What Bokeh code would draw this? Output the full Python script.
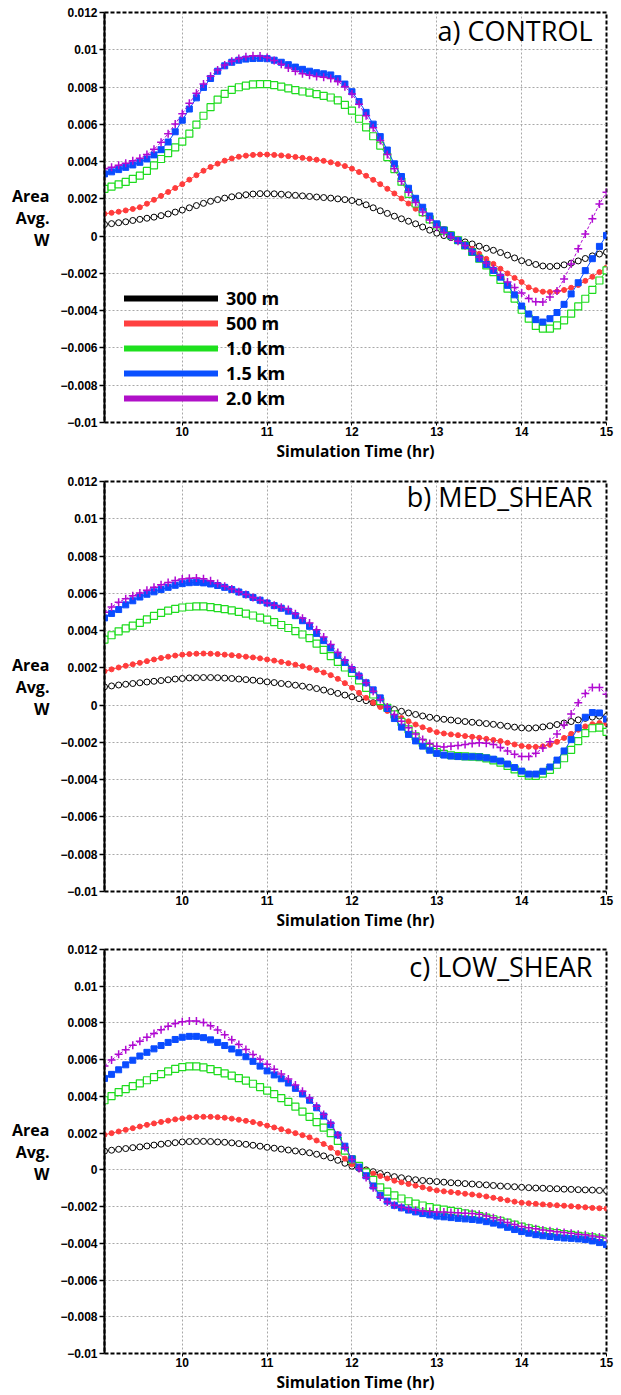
from bokeh.plotting import figure
from bokeh.layouts import column
from bokeh.models import (FixedTicker, CustomJSTickFormatter, Label, Legend,
                          LegendItem, Range1d)
from bokeh.embed import file_html
from bokeh.resources import INLINE

# ---------------- data ----------------
# sample times (minutes after midnight), every 5 min from 9:05 to 15:00
minutes = [545, 550, 555, 560, 565, 570, 575, 580, 585, 590, 595, 600,
           605, 610, 615, 620, 625, 630, 635, 640, 645, 650, 655, 660,
           665, 670, 675, 680, 685, 690, 695, 700, 705, 710, 715, 720,
           725, 730, 735, 740, 745, 750, 755, 760, 765, 770, 775, 780,
           785, 790, 795, 800, 805, 810, 815, 820, 825, 830, 835, 840,
           845, 850, 855, 860, 865, 870, 875, 880, 885, 890, 895, 900]

series_labels = ["300 m", "500 m", "1.0 km", "1.5 km", "2.0 km"]
panel_titles = ["a) CONTROL", "b) MED_SHEAR", "c) LOW_SHEAR"]
x_ticks = [10, 11, 12, 13, 14, 15]
y_ticks = [-0.01, -0.008, -0.006, -0.004, -0.002, 0, 0.002, 0.004, 0.006, 0.008, 0.01, 0.012]

# values in units of 1e-3
a_300 = [0.63, 0.67, 0.72, 0.77, 0.84, 0.90, 0.96, 1.02, 1.10, 1.19, 1.29, 1.40,
         1.52, 1.64, 1.76, 1.87, 1.96, 2.04, 2.11, 2.17, 2.22, 2.26, 2.28, 2.28,
         2.27, 2.25, 2.22, 2.19, 2.16, 2.13, 2.10, 2.07, 2.04, 2.00, 1.96, 1.91,
         1.82, 1.68, 1.52, 1.36, 1.22, 1.07, 0.93, 0.80, 0.66, 0.49, 0.32, 0.16,
         0.03, -0.08, -0.20, -0.31, -0.42, -0.54, -0.65, -0.76, -0.88, -1.02, -1.17, -1.32,
         -1.42, -1.52, -1.60, -1.63, -1.60, -1.54, -1.45, -1.33, -1.20, -1.06, -0.96, -0.86]
a_500 = [1.20, 1.25, 1.31, 1.38, 1.46, 1.55, 1.74, 1.95, 2.16, 2.37, 2.58, 2.79,
         3.03, 3.27, 3.51, 3.71, 3.89, 4.05, 4.17, 4.26, 4.32, 4.36, 4.38, 4.38,
         4.36, 4.33, 4.29, 4.25, 4.20, 4.15, 4.10, 4.04, 3.96, 3.87, 3.76, 3.62,
         3.44, 3.24, 3.02, 2.79, 2.54, 2.29, 2.02, 1.75, 1.47, 1.20, 0.93, 0.66,
         0.39, 0.12, -0.14, -0.41, -0.68, -0.95, -1.22, -1.49, -1.75, -2.00, -2.24, -2.46,
         -2.75, -2.90, -2.98, -3.00, -2.97, -2.89, -2.77, -2.62, -2.40, -2.18, -1.93, -1.68]
a_1000 = [2.54, 2.66, 2.78, 2.91, 3.07, 3.25, 3.50, 3.80, 4.14, 4.45, 4.76, 5.07,
          5.50, 5.98, 6.46, 6.92, 7.32, 7.63, 7.85, 7.99, 8.08, 8.14, 8.16, 8.16,
          8.10, 8.02, 7.93, 7.84, 7.76, 7.70, 7.62, 7.53, 7.44, 7.28, 7.04, 6.73,
          6.30, 5.84, 5.36, 4.86, 4.24, 3.60, 2.92, 2.27, 1.75, 1.29, 0.90, 0.57,
          0.30, 0.04, -0.22, -0.50, -0.85, -1.21, -1.57, -1.93, -2.35, -2.82, -3.35, -3.95,
          -4.43, -4.82, -4.96, -4.96, -4.79, -4.52, -4.16, -3.77, -3.36, -2.88, -2.38, -1.84]
a_1500 = [3.34, 3.45, 3.57, 3.69, 3.82, 3.96, 4.14, 4.36, 4.64, 5.05, 5.60, 6.22,
          6.82, 7.42, 7.98, 8.46, 8.85, 9.14, 9.33, 9.44, 9.50, 9.53, 9.54, 9.52,
          9.44, 9.33, 9.20, 9.07, 8.95, 8.85, 8.77, 8.71, 8.65, 8.45, 8.16, 7.75,
          7.22, 6.64, 6.01, 5.34, 4.62, 3.88, 3.20, 2.57, 2.03, 1.55, 1.08, 0.66,
          0.33, 0.04, -0.23, -0.50, -0.85, -1.21, -1.52, -1.84, -2.20, -2.64, -3.15, -3.75,
          -4.18, -4.48, -4.61, -4.43, -4.10, -3.66, -3.10, -2.50, -1.85, -1.21, -0.55, 0.04]
a_2000 = [3.61, 3.70, 3.80, 3.91, 4.04, 4.18, 4.38, 4.66, 5.04, 5.50, 6.02, 6.57,
          7.13, 7.67, 8.16, 8.58, 8.92, 9.18, 9.38, 9.53, 9.63, 9.68, 9.66, 9.58,
          9.42, 9.22, 9.02, 8.85, 8.72, 8.63, 8.57, 8.52, 8.46, 8.30, 8.02, 7.63,
          7.08, 6.46, 5.81, 5.13, 4.38, 3.61, 2.95, 2.36, 1.80, 1.29, 0.86, 0.48,
          0.20, -0.05, -0.27, -0.50, -0.81, -1.13, -1.44, -1.75, -2.10, -2.46, -2.76, -3.05,
          -3.35, -3.52, -3.54, -3.27, -2.95, -2.30, -1.50, -0.68, 0.12, 0.93, 1.73, 2.35]

b_300 = [0.98, 1.03, 1.08, 1.12, 1.16, 1.20, 1.24, 1.28, 1.32, 1.36, 1.40, 1.43,
         1.46, 1.47, 1.48, 1.48, 1.47, 1.45, 1.43, 1.40, 1.37, 1.34, 1.30, 1.25,
         1.21, 1.16, 1.12, 1.07, 1.02, 0.96, 0.89, 0.81, 0.72, 0.63, 0.54, 0.45,
         0.35, 0.24, 0.13, 0.01, -0.11, -0.23, -0.33, -0.42, -0.50, -0.58, -0.65, -0.71,
         -0.76, -0.80, -0.84, -0.88, -0.92, -0.95, -0.99, -1.03, -1.08, -1.13, -1.18, -1.22,
         -1.24, -1.22, -1.17, -1.11, -1.04, -0.96, -0.88, -0.79, -0.71, -0.64, -0.59, -0.60]
b_500 = [1.82, 1.92, 2.02, 2.11, 2.19, 2.27, 2.36, 2.45, 2.53, 2.60, 2.66, 2.71,
         2.74, 2.76, 2.77, 2.76, 2.74, 2.71, 2.68, 2.64, 2.60, 2.56, 2.51, 2.45,
         2.39, 2.32, 2.25, 2.17, 2.09, 2.00, 1.88, 1.75, 1.61, 1.41, 1.18, 0.93,
         0.66, 0.39, 0.13, -0.10, -0.31, -0.50, -0.69, -0.87, -1.04, -1.19, -1.33, -1.45,
         -1.52, -1.57, -1.61, -1.66, -1.70, -1.75, -1.81, -1.87, -1.93, -2.02, -2.11, -2.19,
         -2.23, -2.24, -2.21, -2.13, -1.97, -1.76, -1.54, -1.32, -1.14, -1.02, -0.96, -0.98]
b_1000 = [3.52, 3.75, 3.96, 4.12, 4.27, 4.41, 4.60, 4.79, 4.95, 5.07, 5.17, 5.24,
          5.28, 5.30, 5.30, 5.26, 5.21, 5.15, 5.08, 5.00, 4.91, 4.81, 4.70, 4.59,
          4.45, 4.30, 4.14, 3.97, 3.79, 3.60, 3.30, 2.96, 2.63, 2.32, 2.02, 1.73,
          1.33, 0.93, 0.57, 0.21, -0.14, -0.50, -0.90, -1.30, -1.68, -2.02, -2.30, -2.52,
          -2.62, -2.69, -2.73, -2.75, -2.77, -2.79, -2.86, -2.96, -3.09, -3.26, -3.45, -3.63,
          -3.78, -3.80, -3.67, -3.47, -3.20, -2.85, -2.40, -1.93, -1.50, -1.24, -1.21, -1.43]
b_1500 = [4.68, 4.92, 5.13, 5.38, 5.60, 5.80, 5.95, 6.08, 6.20, 6.32, 6.43, 6.52,
          6.57, 6.59, 6.56, 6.50, 6.42, 6.32, 6.20, 6.07, 5.93, 5.78, 5.63, 5.48,
          5.34, 5.20, 5.04, 4.80, 4.53, 4.23, 3.85, 3.46, 3.07, 2.68, 2.29, 1.91,
          1.56, 1.20, 0.82, 0.39, -0.18, -0.72, -1.18, -1.57, -1.92, -2.20, -2.42, -2.59,
          -2.68, -2.73, -2.76, -2.77, -2.77, -2.78, -2.83, -2.90, -3.00, -3.16, -3.35, -3.54,
          -3.70, -3.70, -3.55, -3.32, -2.95, -2.46, -1.85, -1.21, -0.65, -0.40, -0.42, -0.75]
b_2000 = [4.98, 5.27, 5.52, 5.71, 5.87, 6.02, 6.17, 6.32, 6.46, 6.58, 6.69, 6.77,
          6.81, 6.82, 6.78, 6.67, 6.53, 6.38, 6.23, 6.08, 5.93, 5.78, 5.63, 5.48,
          5.36, 5.25, 5.13, 4.91, 4.66, 4.41, 4.04, 3.65, 3.25, 2.83, 2.41, 2.00,
          1.60, 1.20, 0.75, 0.30, -0.10, -0.50, -0.86, -1.21, -1.55, -1.84, -2.06, -2.21,
          -2.24, -2.21, -2.16, -2.11, -2.06, -2.02, -2.04, -2.11, -2.27, -2.46, -2.64, -2.76,
          -2.75, -2.58, -2.30, -1.96, -1.55, -1.06, -0.48, 0.13, 0.62, 0.94, 0.95, 0.58]

c_300 = [1.02, 1.07, 1.12, 1.16, 1.21, 1.25, 1.30, 1.35, 1.40, 1.44, 1.48, 1.52,
         1.54, 1.55, 1.55, 1.54, 1.52, 1.50, 1.47, 1.43, 1.39, 1.34, 1.29, 1.23,
         1.18, 1.13, 1.08, 1.03, 0.98, 0.93, 0.85, 0.76, 0.66, 0.52, 0.36, 0.20,
         0.08, 0.00, -0.10, -0.20, -0.29, -0.37, -0.43, -0.49, -0.54, -0.58, -0.61, -0.64,
         -0.67, -0.70, -0.72, -0.75, -0.77, -0.80, -0.82, -0.85, -0.88, -0.90, -0.92, -0.95,
         -0.97, -0.99, -1.00, -1.02, -1.03, -1.05, -1.06, -1.08, -1.09, -1.10, -1.12, -1.13]
c_500 = [1.91, 2.00, 2.09, 2.18, 2.27, 2.36, 2.45, 2.53, 2.61, 2.68, 2.75, 2.80,
         2.85, 2.88, 2.89, 2.89, 2.87, 2.84, 2.79, 2.73, 2.67, 2.60, 2.51, 2.41,
         2.31, 2.21, 2.10, 2.00, 1.89, 1.77, 1.60, 1.41, 1.20, 0.92, 0.61, 0.30,
         0.12, -0.03, -0.20, -0.34, -0.47, -0.59, -0.68, -0.77, -0.86, -0.95, -1.04, -1.12,
         -1.17, -1.21, -1.25, -1.30, -1.34, -1.39, -1.45, -1.52, -1.59, -1.66, -1.73, -1.79,
         -1.82, -1.85, -1.88, -1.91, -1.93, -1.95, -1.98, -2.01, -2.04, -2.07, -2.09, -2.11]
c_1000 = [3.79, 4.02, 4.23, 4.40, 4.56, 4.71, 4.88, 5.05, 5.21, 5.36, 5.50, 5.60,
          5.64, 5.64, 5.58, 5.49, 5.38, 5.25, 5.13, 5.00, 4.86, 4.69, 4.51, 4.32,
          4.12, 3.91, 3.70, 3.44, 3.17, 2.89, 2.60, 2.30, 2.00, 1.58, 1.05, 0.57,
          0.22, -0.14, -0.55, -0.95, -1.19, -1.39, -1.56, -1.71, -1.84, -1.94, -2.03, -2.11,
          -2.17, -2.23, -2.29, -2.37, -2.44, -2.52, -2.60, -2.69, -2.77, -2.87, -2.98, -3.09,
          -3.18, -3.27, -3.35, -3.40, -3.45, -3.50, -3.54, -3.59, -3.63, -3.68, -3.74, -3.80]
c_1500 = [4.98, 5.20, 5.45, 5.72, 5.97, 6.20, 6.40, 6.59, 6.77, 6.94, 7.10, 7.22,
          7.27, 7.27, 7.20, 7.08, 6.94, 6.77, 6.58, 6.38, 6.16, 5.91, 5.65, 5.39,
          5.17, 4.96, 4.73, 4.44, 4.13, 3.79, 3.38, 2.93, 2.45, 1.90, 1.29, 0.60,
          0.15, -0.32, -0.88, -1.39, -1.70, -1.93, -2.07, -2.19, -2.29, -2.38, -2.45, -2.52,
          -2.56, -2.60, -2.64, -2.67, -2.70, -2.74, -2.82, -2.90, -3.00, -3.13, -3.25, -3.36,
          -3.45, -3.53, -3.59, -3.63, -3.67, -3.71, -3.73, -3.76, -3.80, -3.87, -3.96, -4.07]
c_2000 = [5.66, 5.98, 6.29, 6.54, 6.78, 7.00, 7.22, 7.43, 7.63, 7.82, 7.97, 8.07,
          8.11, 8.10, 8.02, 7.85, 7.62, 7.36, 7.09, 6.82, 6.55, 6.28, 6.02, 5.75,
          5.48, 5.22, 4.95, 4.62, 4.28, 3.91, 3.47, 3.02, 2.54, 1.90, 1.22, 0.57,
          0.08, -0.41, -0.98, -1.48, -1.75, -1.93, -2.03, -2.12, -2.20, -2.24, -2.27, -2.29,
          -2.30, -2.32, -2.34, -2.36, -2.38, -2.42, -2.51, -2.61, -2.73, -2.86, -2.98, -3.08,
          -3.15, -3.21, -3.27, -3.32, -3.37, -3.41, -3.45, -3.50, -3.54, -3.60, -3.65, -3.71]

panels = [
    [a_300, a_500, a_1000, a_1500, a_2000],
    [b_300, b_500, b_1000, b_1500, b_2000],
    [c_300, c_500, c_1000, c_1500, c_2000],
]

# ---------------- styling ----------------
hours = [m / 60.0 for m in minutes]
line_colors = ["#000000", "#ff3c3c", "#1edc1e", "#0a4cff", "#b00ad2"]
legend_colors = ["#000000", "#ff4040", "#1ee01e", "#0a50ff", "#b010c8"]
TICK_FONT = "Liberation Sans"
TEXT_FONT = "Open Sans"
title_offsets = [-18, -15, -17]

yfmt_code = """
if (tick == 0) { return "0"; }
var s = Math.abs(tick).toFixed(3).replace(/0+$/, "");
return (tick < 0 ? "\\u2212" : "") + s;
"""


def make_panel(idx, data, height, top, bottom, legend):
    p = figure(width=621, height=height, output_backend="svg", toolbar_location=None,
               x_range=Range1d(hours[0], 15), y_range=Range1d(-0.01, 0.012),
               min_border_left=104, min_border_right=15,
               min_border_top=top, min_border_bottom=bottom)
    p.background_fill_color = "white"
    p.border_fill_color = "white"
    p.outline_line_color = "black"
    p.outline_line_width = 2
    p.outline_line_dash = "4 2"

    # axes
    p.xaxis.ticker = FixedTicker(ticks=x_ticks)
    p.yaxis.ticker = FixedTicker(ticks=y_ticks)
    p.yaxis.formatter = CustomJSTickFormatter(code=yfmt_code)
    for ax in (p.xaxis[0], p.yaxis[0]):
        ax.major_label_text_font = TICK_FONT
        ax.major_label_text_font_size = "12px"
        ax.major_label_text_font_style = "bold"
        ax.major_label_text_color = "black"
        ax.minor_tick_line_color = None
        ax.major_tick_in = 0
    p.xaxis.axis_line_color = None
    p.xaxis.major_tick_out = 3
    p.xaxis.major_tick_line_color = "black"
    p.xaxis.major_label_standoff = 1
    p.xaxis.axis_label = "Simulation Time (hr)"
    p.xaxis.axis_label_text_font = TEXT_FONT
    p.xaxis.axis_label_text_font_style = "bold"
    p.xaxis.axis_label_text_font_size = "15.5px"
    p.xaxis.axis_label_text_color = "black"
    p.xaxis.axis_label_standoff = 1
    p.yaxis.axis_line_color = "black"
    p.yaxis.axis_line_width = 2
    p.yaxis.major_tick_out = 5
    p.yaxis.major_tick_line_width = 1.5
    p.yaxis.major_tick_line_color = "black"
    p.yaxis.major_label_standoff = 2

    # y axis label, written horizontally
    p.yaxis.axis_label = "Area\nAvg.\nW"
    p.yaxis.axis_label_text_font = TEXT_FONT
    p.yaxis.axis_label_text_font_style = "bold"
    p.yaxis.axis_label_text_font_size = "16px"
    p.yaxis.axis_label_text_color = "black"
    p.yaxis.axis_label_standoff = 8
    try:
        p.yaxis.axis_label_orientation = "horizontal"
    except Exception:
        pass
    try:
        p.yaxis.axis_label_text_line_height = 1.0
    except Exception:
        pass

    # grid
    for g in (p.xgrid[0], p.ygrid[0]):
        g.grid_line_color = "#a8a8a8"
        g.grid_line_dash = "2 2"
        g.grid_line_width = 1

    # series
    ys = [[v * 1e-3 for v in s] for s in data]
    c = line_colors
    p.line(hours, ys[0], line_color=c[0], line_width=1)
    p.scatter(hours, ys[0], marker="circle", size=6, line_color=c[0],
              fill_color="white", line_width=1)
    p.line(hours, ys[1], line_color=c[1], line_width=1)
    p.scatter(hours, ys[1], marker="circle", size=5, line_color=c[1],
              fill_color=c[1], line_width=1)
    p.line(hours, ys[2], line_color=c[2], line_width=1)
    p.scatter(hours, ys[2], marker="square", size=7, line_color=c[2],
              fill_color="white", line_width=1.2)
    p.line(hours, ys[3], line_color=c[3], line_width=1)
    p.scatter(hours, ys[3], marker="square", size=6, line_color=c[3],
              fill_color=c[3], line_width=1)
    p.line(hours, ys[4], line_color=c[4], line_width=1, line_dash="3 2")
    p.scatter(hours, ys[4], marker="cross", size=8, line_color=c[4], line_width=1.5)

    # panel title
    p.add_layout(Label(x=15, y=0.012, x_offset=-14, y_offset=title_offsets[idx],
                       text=panel_titles[idx],
                       text_align="right", text_baseline="alphabetic",
                       text_font=TEXT_FONT, text_font_size="27px", text_color="black"))

    if legend:
        items = []
        for k, (lab, col) in enumerate(zip(series_labels, legend_colors)):
            # single-point proxy renderer: draws nothing in the plot, only in the legend
            r = p.line([hours[0]], [ys[k][0]], line_color=col, line_width=6, line_cap="round")
            items.append(LegendItem(label=lab, renderers=[r]))
        lg = Legend(items=items, location=(20, 12), glyph_width=94, glyph_height=20,
                    label_height=20, spacing=1, padding=0, margin=0, label_standoff=8,
                    border_line_color=None, background_fill_alpha=0,
                    label_text_font=TEXT_FONT, label_text_font_style="bold",
                    label_text_font_size="18px", label_text_color="black")
        p.add_layout(lg)
    return p


pa = make_panel(0, panels[0], 469, 12, 47, True)
pb = make_panel(1, panels[1], 469, 12, 47, False)
pc = make_panel(2, panels[2], 457, 11, 36, False)

layout = column(pa, pb, pc, spacing=0)
open("out.html", "w").write(file_html(layout, INLINE))
